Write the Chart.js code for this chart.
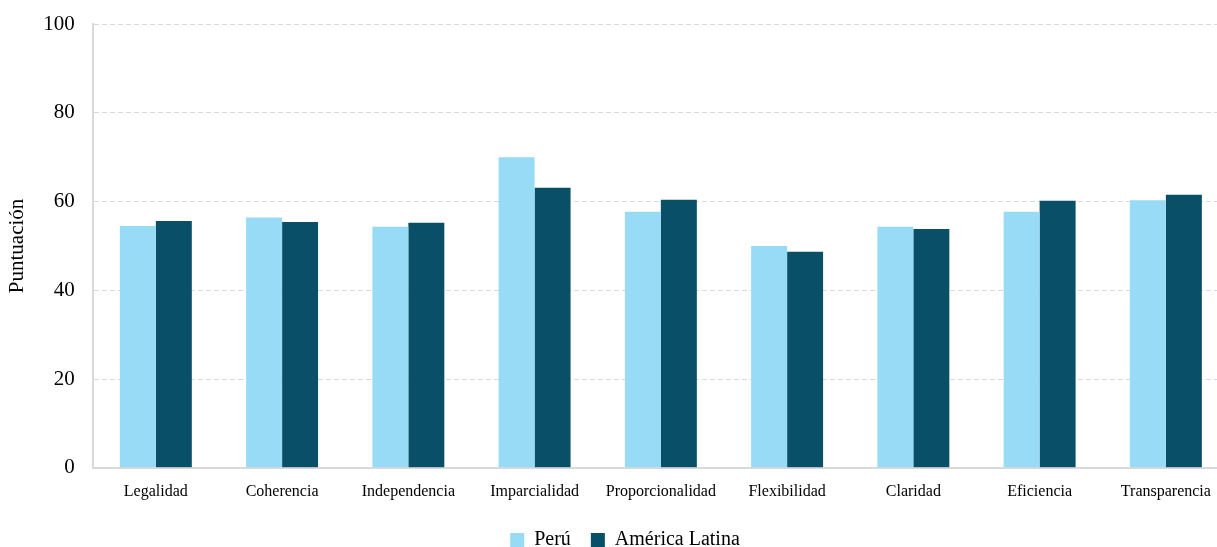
<!DOCTYPE html>
<html>
<head>
<meta charset="utf-8">
<script src="https://cdn.jsdelivr.net/npm/chart.js@4"></script>
<style>
html,body{margin:0;padding:0;background:#fff;overflow:hidden;}
#wrap{width:1240px;height:547px;position:relative;}
</style>
</head>
<body>
<div id="wrap"><canvas id="c"></canvas></div>
<script>
const categories = ["Legalidad","Coherencia","Independencia","Imparcialidad","Proporcionalidad","Flexibilidad","Claridad","Eficiencia","Transparencia"];
const seriesNames = ["Perú","América Latina"];
const peru = [54.5,56.4,54.3,70.0,57.7,50.0,54.3,57.7,60.3];
const latam = [55.6,55.4,55.2,63.1,60.4,48.7,53.8,60.2,61.5];
const yMin = 0, yMax = 100, yStep = 20;
const yTitle = "Puntuación";

const FONT = "'Liberation Serif', 'DejaVu Serif', serif";
Chart.defaults.font.family = FONT;
Chart.defaults.color = "#000";

new Chart(document.getElementById('c'), {
  type: 'bar',
  data: {
    labels: categories,
    datasets: [
      {label: seriesNames[0], data: peru, backgroundColor: '#97dbf6', borderWidth: 0},
      {label: seriesNames[1], data: latam, backgroundColor: '#0a4f68', borderWidth: 0}
    ]
  },
  options: {
    responsive: true,
    maintainAspectRatio: false,
    animation: false,
    layout: {padding: {top: 24, right: 11, left: 1, bottom: 0}},
    datasets: {bar: {categoryPercentage: 0.57, barPercentage: 1}},
    plugins: {
      legend: {
        position: 'bottom',
        maxHeight: 37,
        labels: {boxWidth: 14, boxHeight: 14, font: {size: 20}, padding: 20}
      },
      tooltip: {enabled: false}
    },
    scales: {
      x: {
        grid: {display: false, drawTicks: false},
        border: {display: true, color: '#d9d9d9', width: 2},
        ticks: {font: {size: 16}, padding: 14, maxRotation: 0, autoSkip: false},
        afterFit(scale) { scale.height -= 5; }
      },
      y: {
        min: yMin, max: yMax,
        grid: {color: '#d9d9d9', lineWidth: 1, drawTicks: false},
        border: {display: true, color: '#d9d9d9', width: 2, dash: [5,3]},
        ticks: {stepSize: yStep, font: {size: 21}, padding: 18},
        title: {display: true, text: yTitle, font: {size: 21}, padding: {top: 4, bottom: 13}},
        afterFit(scale) { scale.width -= 18; scale.paddingTop = 0; }
      }
    }
  },
  plugins: [{
    id: 'legendShift',
    beforeDraw(chart) {
      if (chart.legend && !chart.legend._shifted) {
        chart.legend.left += 10;
        chart.legend.right += 10;
        chart.legend._shifted = true;
      }
    }
  }]
});
</script>
</body>
</html>
